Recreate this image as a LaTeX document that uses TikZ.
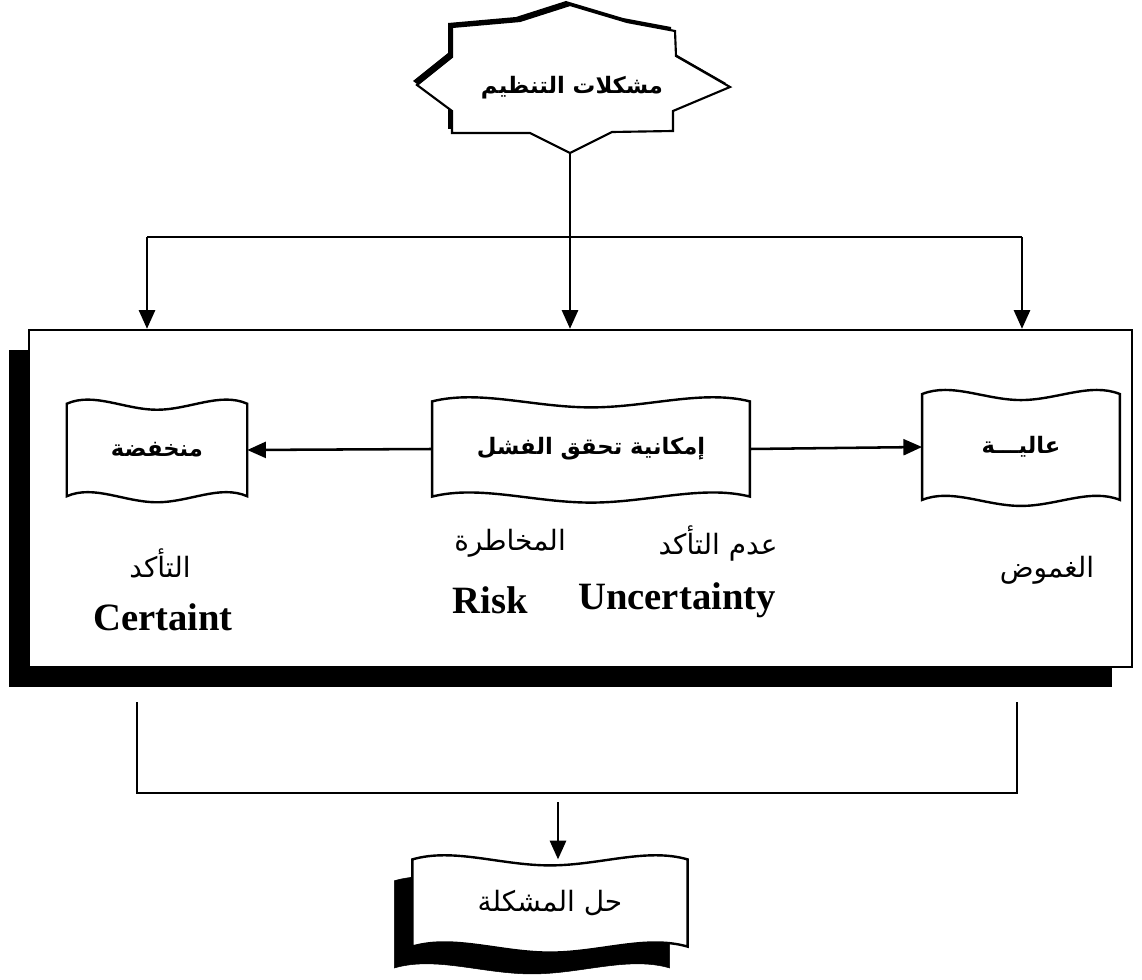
\documentclass[tikz,border=0pt]{standalone}
\usepackage{fontspec}
\usetikzlibrary{arrows.meta,calc,shadows}
\newfontfamily\arabicfont[Script=Arabic]{DejaVu Sans}
\newfontfamily\latinfont{Liberation Serif}
\TeXXeTstate=1

\newcommand{\artext}[1]{\arabicfont\beginR #1\endR}

% wavy outline round a node
\newcommand{\tapeline}[2][]{%
  \draw[#1] (#2.north west)
    .. controls ($(#2.north west)!.15!(#2.north east)+(0,-12)$) and ($(#2.north west)!.32!(#2.north east)+(0,6)$) .. ($(#2.north)+(0,6)$)
    .. controls ($(#2.north west)!.68!(#2.north east)+(0,6)$) and ($(#2.north west)!.85!(#2.north east)+(0,-12)$) .. (#2.north east)
    -- (#2.south east)
    .. controls ($(#2.south west)!.85!(#2.south east)+(0,-12)$) and ($(#2.south west)!.68!(#2.south east)+(0,6)$) .. ($(#2.south)+(0,6)$)
    .. controls ($(#2.south west)!.32!(#2.south east)+(0,6)$) and ($(#2.south west)!.15!(#2.south east)+(0,-12)$) .. (#2.south west)
    -- cycle;}

\tikzset{
  link/.style={line width=1.9pt,-{Triangle[length=14pt,width=12pt]}},
  wire/.style={line width=1.6pt},
  tape/.style={inner sep=0pt,font=\fontsize{17}{19}\bfseries},
  note/.style={font=\fontsize{21}{24}\selectfont},
  eng/.style={font=\latinfont\fontsize{29}{32}\bfseries}
}

\begin{document}
\begin{tikzpicture}[x=0.75pt,y=-0.75pt]
  \useasboundingbox (0,0) rectangle (1142,980);

  % star with its offset shadow
  \def\starpath{(570,5) -- (627,22) -- (675,31) -- (676,56) -- (730,87) -- (673,111)
    -- (673,131) -- (612,132) -- (570,153) -- (530,133) -- (452,133) -- (452,111)
    -- (417,85) -- (452,57) -- (452,27) -- (520,21) -- cycle}
  \fill[black] [shift={(-4,-4)}] \starpath;
  \draw[line width=1.6pt,fill=white] \starpath;
  \node (prob) at (572,88) [tape]{\artext{مشكلات التنظيم}};
  \coordinate (probtip) at (570,153);

  % outer box
  \node (main) at (580.5,498.5) [draw,line width=1.5pt,fill=white,
    minimum width=827pt,minimum height=253pt,
    drop shadow={shadow xshift=-15pt,shadow yshift=-15pt,fill=black,opacity=1}]{};

  % top connectors
  \coordinate (lt) at (147,237);
  \coordinate (rt) at (1022,237);
  \draw[wire] (lt) -- (rt);
  \draw[link] (probtip) -- (probtip |- main.north);
  \foreach \c in {lt,rt}
    \draw[link] (\c) -- (\c |- main.north);

  % the three wavy boxes
  \node (low)  at (157,450)  [tape,minimum width=135pt,minimum height=69pt]{\artext{منخفضة}};
  \node (poss) at (591,449)  [tape,minimum width=238pt,minimum height=71pt]{\artext{إمكانية تحقق الفشل}};
  \node (high) at (1021,447) [tape,minimum width=148pt,minimum height=79pt]{\artext{عاليـــة}};
  \foreach \n in {low,poss,high}
    \tapeline[line width=1.8pt]{\n};
  \draw[link] (poss.west) -- (low.east);
  \draw[link] (poss.east) -- (high.west);

  % labels under the boxes
  \node (cert)   at (160,563)  [note]{\artext{التأكد}};
  \node (certen) at (163,617)  [eng]{Certaint};
  \node (risk)   at (510,543)  [note]{\artext{المخاطرة}};
  \node (risken) at (490,600)  [eng]{Risk};
  \node (unc)    at (718,543)  [note]{\artext{عدم التأكد}};
  \node (uncen)  at (677,600)  [eng]{Uncertainty};
  \node (amb)    at (1047,570) [note]{\artext{الغموض}};

  % bottom connectors
  \coordinate (bl1) at (137,702);
  \coordinate (bl2) at (137,793);
  \coordinate (br1) at (1017,702);
  \coordinate (br2) at (1017,793);
  \coordinate (join) at (558,802);
  \draw[wire] (bl1) -- (bl2) -- (br2) -- (br1);

  % solution box
  \node (sol) at (550,903) [tape,minimum width=206pt,minimum height=65pt]{};
  \begin{scope}[transform canvas={xshift=-13.5pt,yshift=-16pt}]
    \tapeline[fill=black]{sol};
  \end{scope}
  \tapeline[line width=1.8pt,fill=white]{sol};
  \node at (sol) [note]{\artext{حل المشكلة}};
  \draw[link] (join) -- (join |- sol.north);
\end{tikzpicture}
\end{document}
